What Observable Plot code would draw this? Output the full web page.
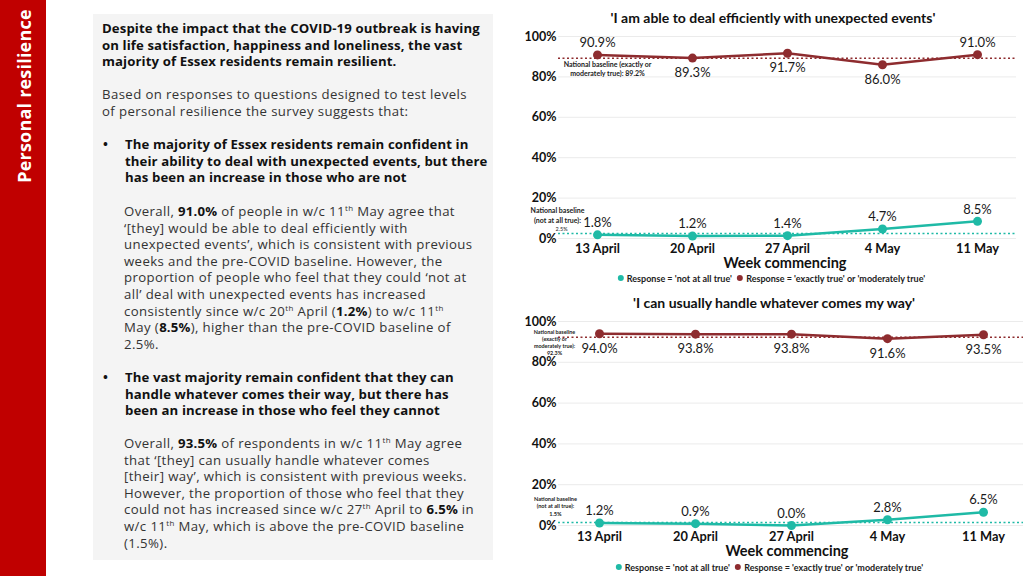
<!DOCTYPE html>
<html><head><meta charset="utf-8">
<script src="https://cdn.jsdelivr.net/npm/d3@7"></script>
<script src="https://cdn.jsdelivr.net/npm/@observablehq/plot@0.6"></script>
<style>
body{margin:0;width:1024px;height:576px;background:#fff;position:relative;overflow:hidden;font-family:"Open Sans",sans-serif}
#side{position:absolute;left:0;top:0;width:46px;height:576px;background:#c00000}
#sideText{position:absolute;left:24px;top:96px;transform:translate(-50%,-50%) rotate(-90deg);color:#fff;font-weight:bold;font-size:18px;letter-spacing:0.2px;white-space:nowrap;font-family:"Open Sans",sans-serif}
#box{position:absolute;left:93px;top:14px;width:400px;height:546px;background:#f4f4f4}
.t{position:absolute;white-space:nowrap;font-size:13.2px;line-height:16.6px;color:#333;letter-spacing:0.4px}
.t.b{font-weight:bold;color:#111;letter-spacing:0.1px}
.t b{letter-spacing:0.2px;color:#111}
sup{font-size:0.6em;line-height:0;vertical-align:super}
.bul{position:absolute;left:103px;font-weight:bold;font-size:13px;color:#111}
.title{position:absolute;transform:translateX(-50%);white-space:nowrap;font-family:Lato,sans-serif;font-weight:bold;font-size:14px;color:#111}
.wk{position:absolute;transform:translateX(-50%);white-space:nowrap;font-family:Lato,sans-serif;font-weight:bold;font-size:14.5px;color:#111}
.leg{position:absolute;transform:translateX(-50%);white-space:nowrap;font-family:Lato,sans-serif;font-weight:bold;font-size:9px;color:#222}
.leg span.d{display:inline-block;width:6px;height:6px;border-radius:50%;margin:0 3px 1px 3px}
.chart{position:absolute;left:500px}
</style></head>
<body>
<div id="side"><div id="sideText">Personal resilience</div></div>
<div id="box"></div>
<div class="t b" style="left:102px;top:20px">Despite the impact that the COVID-19 outbreak is having<br>on life satisfaction, happiness and loneliness, the vast<br>majority of Essex residents remain resilient.</div>
<div class="t" style="left:102px;top:86px">Based on responses to questions designed to test levels<br>of personal resilience the survey suggests that:</div>
<div class="bul" style="top:136px;line-height:16.6px">•</div>
<div class="t b" style="left:125px;top:136px">The majority of Essex residents remain confident in<br>their ability to deal with unexpected events, but there<br>has been an increase in those who are not</div>
<div class="t" style="left:124px;top:203px">Overall, <b>91.0%</b> of people in w/c 11<sup>th</sup> May agree that<br>‘[they] would be able to deal efficiently with<br>unexpected events’, which is consistent with previous<br>weeks and the pre-COVID baseline. However, the<br>proportion of people who feel that they could ‘not at<br>all’ deal with unexpected events has increased<br>consistently since w/c 20<sup>th</sup> April (<b>1.2%</b>) to w/c 11<sup>th</sup><br>May (<b>8.5%</b>), higher than the pre-COVID baseline of<br>2.5%.</div>
<div class="bul" style="top:369px;line-height:16.6px">•</div>
<div class="t b" style="left:125px;top:369px">The vast majority remain confident that they can<br>handle whatever comes their way, but there has<br>been an increase in those who feel they cannot</div>
<div class="t" style="left:124px;top:435px">Overall, <b>93.5%</b> of respondents in w/c 11<sup>th</sup> May agree<br>that ‘[they] can usually handle whatever comes<br>[their] way’, which is consistent with previous weeks.<br>However, the proportion of those who feel that they<br>could not has increased since w/c 27<sup>th</sup> April to <b>6.5%</b> in<br>w/c 11<sup>th</sup> May, which is above the pre-COVID baseline<br>(1.5%).</div>

<div class="title" style="left:773px;top:9px">'I am able to deal efficiently with unexpected events'</div>
<div class="chart" id="c1" style="top:25px"></div>
<div class="wk" style="left:785px;top:254px">Week commencing</div>
<div class="leg" style="left:770px;top:273px"><span class="d" style="background:#1fbaa6"></span>Response = 'not at all true' <span class="d" style="background:#8e2c2f"></span>Response = 'exactly true' or 'moderately true'</div>

<div class="title" style="left:774px;top:294px">'I can usually handle whatever comes my way'</div>
<div class="chart" id="c2" style="top:310px"></div>
<div class="wk" style="left:787px;top:542px">Week commencing</div>
<div class="leg" style="left:768px;top:562px"><span class="d" style="background:#1fbaa6"></span>Response = 'not at all true' <span class="d" style="background:#8e2c2f"></span>Response = 'exactly true' or 'moderately true'</div>

<script>
const weeks = ["13 April", "20 April", "27 April", "4 May", "11 May"];
const efficientTrue = [90.9, 89.3, 91.7, 86.0, 91.0];
const efficientNot = [1.8, 1.2, 1.4, 4.7, 8.5];
const efficientBaseTrue = 89.2;
const efficientBaseNot = 2.5;
const efficientTrueSide = ["top", "bottom", "bottom", "bottom", "top"];
const handleTrue = [94.0, 93.8, 93.8, 91.6, 93.5];
const handleNot = [1.2, 0.9, 0.0, 2.8, 6.5];
const handleBaseTrue = 92.3;
const handleBaseNot = 1.5;
const handleTrueSide = ["bottom", "bottom", "bottom", "bottom", "bottom"];
const yTicks = [0, 20, 40, 60, 80, 100];

const RED = "#8e2c2f", TEAL = "#1fbaa6";

function makeChart(o) {
  const rowsTrue = weeks.map((w, i) => ({week: w, value: o.trueVals[i], side: o.sides[i]}));
  const rowsNot = weeks.map((w, i) => ({week: w, value: o.notVals[i]}));
  const fmt = d => d.value.toFixed(1) + "%";
  return Plot.plot({
    width: 524, height: o.height,
    marginLeft: 58, marginRight: o.mr, marginTop: 11, marginBottom: 22,
    x: {type: "point", domain: weeks, padding: o.pad},
    y: {domain: [0, 100]},
    style: {fontFamily: "Lato, sans-serif", background: "transparent", color: "#111"},
    marks: [
      Plot.gridY(yTicks, {stroke: "#ebebeb", strokeOpacity: 1}),
      Plot.axisY(yTicks, {tickFormat: d => d + "%", tickSize: 0, tickPadding: 2, fontSize: 12.5, fontWeight: "bold", label: null}),
      Plot.axisX({tickSize: 0, tickPadding: o.xpad, fontSize: 12.8, fontWeight: "bold", label: null}),
      Plot.ruleY([o.baseTrue], {stroke: RED, strokeWidth: 1.5, strokeDasharray: "2,2.5"}),
      Plot.ruleY([o.baseNot], {stroke: TEAL, strokeWidth: 1.5, strokeDasharray: "2,2.5"}),
      Plot.line(rowsTrue, {x: "week", y: "value", stroke: RED, strokeWidth: 2.5}),
      Plot.dot(rowsTrue, {x: "week", y: "value", r: 4.5, fill: RED}),
      Plot.line(rowsNot, {x: "week", y: "value", stroke: TEAL, strokeWidth: 2.5}),
      Plot.dot(rowsNot, {x: "week", y: "value", r: 4.5, fill: TEAL}),
      Plot.text(rowsTrue, {filter: d => d.side === "top", x: "week", y: "value", text: fmt, dy: -12, fontSize: 13, fill: "#1a1a1a"}),
      Plot.text(rowsTrue, {filter: d => d.side === "bottom", x: "week", y: "value", text: fmt, dy: 15, fontSize: 13, fill: "#1a1a1a"}),
      Plot.text(rowsNot, {x: "week", y: "value", text: fmt, dy: -12, fontSize: 13, fill: "#1a1a1a"}),
      ...o.notes
    ]
  });
}

const note = (text, y, dx, dy, fs, fw, lh) => Plot.text([0], {x: () => weeks[0], y: () => y, text: () => text, dx, dy, fontSize: fs, fontWeight: fw || "bold", fill: "#222", lineAnchor: "top", lineHeight: lh || 1.3});

document.getElementById("c1").append(makeChart({
  height: 235, mr: 8, pad: 0.41, xpad: 5,
  trueVals: efficientTrue, notVals: efficientNot, sides: efficientTrueSide,
  baseTrue: efficientBaseTrue, baseNot: efficientBaseNot,
  notes: [
    note("National baseline (exactly or\nmoderately true): " + efficientBaseTrue + "%", efficientBaseTrue, 10, 2, 7),
    note("National baseline\n(not at all true):", efficientBaseNot, -40, -27, 7, "bold", 1.4),
    note(efficientBaseNot + "%", efficientBaseNot, -36, -8, 5.5, "normal")
  ]
}));

document.getElementById("c2").append(makeChart({
  height: 237, mr: 1, pad: 0.416, xpad: 6,
  trueVals: handleTrue, notVals: handleNot, sides: handleTrueSide,
  baseTrue: handleBaseTrue, baseNot: handleBaseNot,
  notes: [
    note("National baseline\n(exactly or\nmoderately true):\n" + handleBaseTrue + "%", handleBaseTrue, -45, -8, 5.4, "bold", 1.3),
    note("National baseline\n(not at all true):\n" + handleBaseNot + "%", handleBaseNot, -44, -27, 5.6, "bold", 1.35)
  ]
}));
</script>
</body></html>
